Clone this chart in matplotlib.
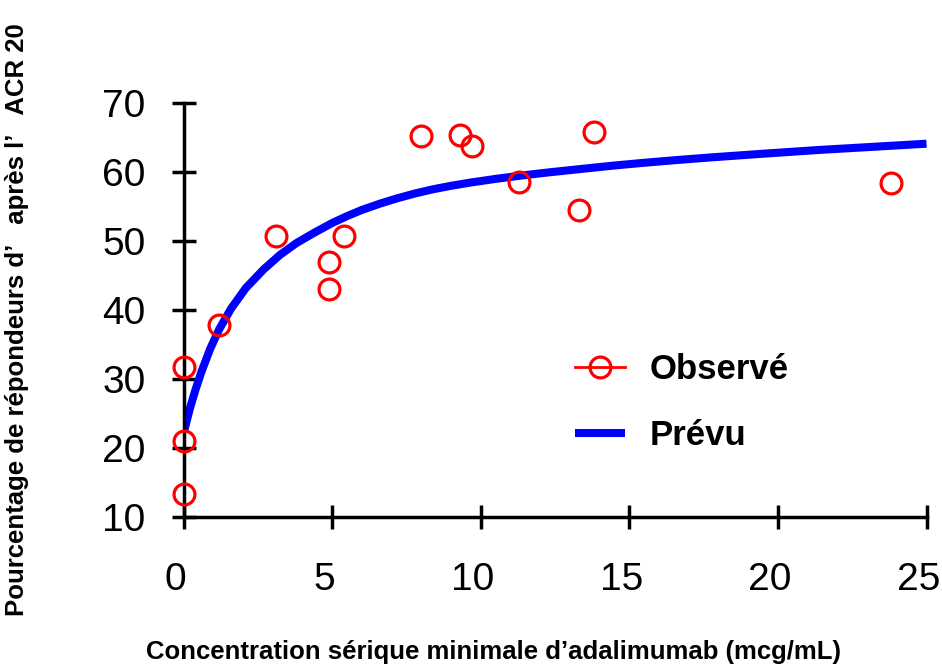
import matplotlib.pyplot as plt
import matplotlib.transforms as mtransforms
from matplotlib.lines import Line2D

plt.rcParams['font.family'] = ['Liberation Sans', 'DejaVu Sans']

# Points observes (concentration, % repondeurs)
obs_x = [0.0, 0.0, 0.0, 1.2, 3.1, 4.9, 4.9, 5.4, 8.0, 9.3, 9.7, 11.3, 13.3, 13.8, 23.8]
obs_y = [13.3, 21.0, 31.7, 37.8, 50.7, 47.0, 43.0, 50.7, 65.2, 65.3, 63.8, 58.6, 54.5, 65.8, 58.4]

# Courbe prevue
pred_x = [0.03, 0.1, 0.22, 0.4, 0.6, 0.9, 1.2, 1.6, 2.1, 2.7, 3.25, 3.8, 4.4, 5.0, 5.5,
          6.0, 6.6, 7.2, 7.8, 8.4, 9.0, 9.7, 10.5, 11.3, 12.3, 13.4, 14.4, 15.4, 16.5,
          17.7, 19.5, 21.4, 23.2, 25.0]
pred_y = [22.6, 23.8, 25.8, 28.4, 31.0, 34.4, 37.2, 40.2, 43.2, 45.9, 48.0, 49.7, 51.2, 52.6, 53.6,
          54.5, 55.4, 56.2, 56.9, 57.5, 58.0, 58.5, 59.0, 59.45, 59.95, 60.45, 60.9, 61.3, 61.7,
          62.1, 62.65, 63.2, 63.65, 64.1]

fig = plt.figure(figsize=(9.42, 6.66), dpi=100)
ax = fig.add_axes([183.5 / 942, 149 / 666, 743 / 942, 414 / 666])

ax.plot(pred_x, pred_y, color='#0000ff', lw=5.8, solid_capstyle='butt', zorder=2)
ax.plot(obs_x, obs_y, ls='none', marker='o', ms=15, mfc='none', mec='#ff0000',
        mew=2.3, clip_on=False, zorder=3)

ax.set_xlim(0, 25)
ax.set_ylim(10, 70)
ax.set_xticks([0, 5, 10, 15, 20, 25])
ax.set_yticks([10, 20, 30, 40, 50, 60, 70])

for s in ['top', 'right']:
    ax.spines[s].set_visible(False)
for s in ['left', 'bottom']:
    ax.spines[s].set_linewidth(2.5)

ax.tick_params(axis='both', direction='inout', length=17, width=2.5, labelsize=28)
ax.tick_params(axis='y', pad=19)
ax.tick_params(axis='x', pad=24)

# les etiquettes de l'axe x sont un peu decalees vers la gauche
shift = mtransforms.ScaledTranslation(-8 / 100, 0, fig.dpi_scale_trans)
for lab in ax.get_xticklabels():
    lab.set_transform(lab.get_transform() + shift)

handles = [
    Line2D([], [], color='#ff0000', lw=2, marker='o', ms=15, mfc='none', mec='#ff0000', mew=2.3),
    Line2D([], [], color='#0000ff', lw=5.8, solid_capstyle='butt'),
]
ax.legend(handles, ['Observé', 'Prévu'], loc='center left', bbox_to_anchor=(0.527, 0.2766),
          frameon=False, borderpad=0, borderaxespad=0, handlelength=1.45, handletextpad=0.7,
          labelspacing=0.95, prop={'size': 25, 'weight': 'bold'})

fig.text(493 / 942, 1 - 652 / 666, 'Concentration sérique minimale d’adalimumab (mcg/mL)',
         ha='center', va='center', fontsize=18.5, fontweight='bold')
fig.text(17 / 942, 1 - 320 / 666, 'Pourcentage de répondeurs d’   après l’   ACR 20',
         ha='center', va='center', rotation=90, fontsize=18.5, fontweight='bold')

fig.savefig('out.png', dpi=100)
